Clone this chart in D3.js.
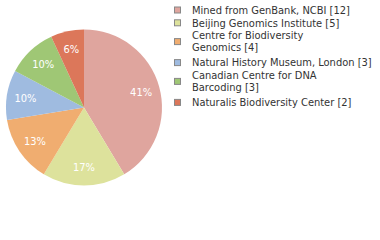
<!DOCTYPE html>
<html><head><meta charset="utf-8">
<script src="https://cdn.jsdelivr.net/npm/d3@7"></script>
<style>body{margin:0;background:#fff;}svg{display:block;}</style>
</head><body>
<svg id="c" width="380" height="240"></svg>
<script>
const categories = ["Mined from GenBank, NCBI", "Beijing Genomics Institute", "Centre for Biodiversity Genomics", "Natural History Museum, London", "Canadian Centre for DNA Barcoding", "Naturalis Biodiversity Center"];
const legendLines = [["Mined from GenBank, NCBI [12]"], ["Beijing Genomics Institute [5]"], ["Centre for Biodiversity", "Genomics [4]"], ["Natural History Museum, London [3]"], ["Canadian Centre for DNA", "Barcoding [3]"], ["Naturalis Biodiversity Center [2]"]];
const counts = [12, 5, 4, 3, 3, 2];
const colors = ["#dfa59e", "#dde29c", "#f0ad70", "#9fbbe0", "#9fc775", "#dc775a"];

const svg = d3.select("#c");
const total = d3.sum(counts);
const cx = 84, cy = 107.5, r = 78;
const pie = d3.pie().sort(null).value(d => d)(counts);
const arc = d3.arc().innerRadius(0).outerRadius(r);
const labelArc = d3.arc().innerRadius(r * 0.76).outerRadius(r * 0.76);
const g = svg.append("g").attr("transform", `translate(${cx},${cy})`);
g.selectAll("path").data(pie).join("path")
  .attr("d", arc).attr("fill", (d, i) => colors[i]);
g.selectAll("text").data(pie).join("text")
  .attr("transform", d => `translate(${labelArc.centroid(d)})`)
  .attr("text-anchor", "middle").attr("dy", "0.35em")
  .attr("font-family", "DejaVu Sans Condensed, DejaVu Sans").attr("font-size", 11).attr("fill", "#fff")
  .text(d => Math.floor(d.value / total * 100) + "%");

const lg = svg.append("g");
let y = 10;
legendLines.forEach((lines, i) => {
  const h = (lines.length - 1) * 12;
  lg.append("rect").attr("x", 174.5).attr("y", y + h / 2 - 3).attr("width", 6).attr("height", 6)
    .attr("fill", colors[i]).attr("stroke", "#888").attr("stroke-width", 1);
  lines.forEach((t, j) => {
    lg.append("text").attr("x", 192).attr("y", y + j * 12).attr("dy", "0.35em")
      .attr("font-family", "DejaVu Sans Condensed, DejaVu Sans").attr("font-size", 11).attr("fill", "#333").text(t);
  });
  y += h + (lines.length > 1 ? 15 : 12.8);
});
</script>
</body></html>
